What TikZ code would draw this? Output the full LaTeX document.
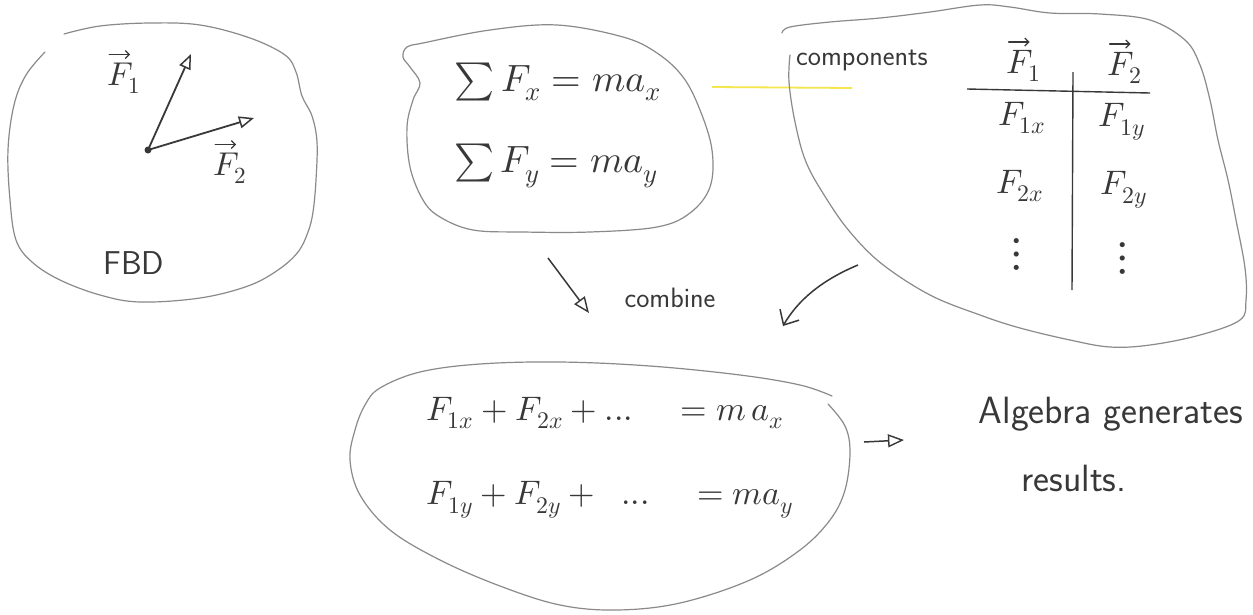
\documentclass[tikz,border=0pt]{standalone}
\usepackage{fontspec}
\usepackage{unicode-math}
\setmathfont{Latin Modern Math}
\usetikzlibrary{arrows.meta}
\definecolor{pencilc}{HTML}{8A8A8A}
\definecolor{inkc}{HTML}{383838}
\definecolor{hilitec}{HTML}{F4E64C}
\newcommand{\fsz}[1]{\fontsize{#1}{#1}\selectfont}
\tikzset{
  blob/.style={draw=pencilc, line width=1.2pt, line cap=round, line join=round},
  lbl/.style={text=inkc, inner sep=1pt},
  vecarrow/.style={draw=inkc, line width=1.8pt, -{Triangle[open, length=15pt, width=12pt, line width=1.5pt]}},
  vecmark/.style={draw=inkc, line width=1.3pt, line cap=round, -{Straight Barb[length=4pt, width=8pt, line width=1.3pt]}},
  inkline/.style={draw=inkc, line width=1.4pt},
  hdarrow/.style={draw=inkc, line width=1.5pt, -{Triangle[open, length=16pt, width=13pt, line width=1.4pt]}},
  barbarrow/.style={draw=inkc, line width=1.5pt, -{Straight Barb[length=12pt, width=22pt, line width=1.5pt]}},
}
\begin{document}
\begin{tikzpicture}[x=1pt, y=-1pt]
\useasboundingbox (0,0) rectangle (1253,614);
\fill[white] (0,0) rectangle (1253,614);

% ---------- FBD blob ----------
\draw[blob] plot[smooth, tension=0.6] coordinates {
  (64,34) (100,26) (150,23) (200,25) (250,38) (285,55) (296,72) (302,96)
  (312,116) (317,142) (316,180) (313,212) (308,232) (298,252) (278,270)
  (248,286) (200,298) (140,302) (100,295) (60,280) (32,262) (16,240)
  (10,200) (8,150) (14,105) (26,75) (45,52)};
\coordinate (o) at (148,150);
\coordinate (f1tip) at (191,54);
\coordinate (f2tip) at (254,118);
\draw[vecarrow] (o) -- (f1tip);
\draw[vecarrow] (o) -- (f2tip);
\fill[inkc] (o) circle (3.5pt);
\node[lbl, font=\fsz{33}] (f1lab) at (124,78) {$F_1$};
\node[lbl, font=\fsz{33}] (f2lab) at (230,168) {$F_2$};
\draw[vecmark] ([xshift=3pt, yshift=7pt]f1lab.north west) -- ([xshift=24pt, yshift=7pt]f1lab.north west);
\draw[vecmark] ([xshift=3pt, yshift=7pt]f2lab.north west) -- ([xshift=24pt, yshift=7pt]f2lab.north west);
\node[lbl, font=\sffamily\fsz{33}] (fbd) at (134,263) {FBD};

% ---------- Sum blob ----------
\draw[blob] plot[smooth cycle, tension=0.6] coordinates {
  (407,47) (423,43) (490,30) (557,25) (623,37) (657,53) (683,77) (700,110)
  (712,150) (710,187) (690,213) (657,227) (590,232) (523,232) (473,230)
  (440,217) (423,200) (410,167) (407,127) (413,100) (420,83) (410,67)
  (403,57)};
\node[lbl, font=\fsz{38}] (sumx) at (558,82) {$\sum F_x = m a_x$};
\node[lbl, font=\fsz{38}] (sumy) at (556,166) {$\sum F_y = m a_y$};

% yellow highlight stroke
\coordinate (y1) at (712,87);
\coordinate (y2) at (852,88);
\draw[draw=hilitec, line width=1.8pt] (y1) -- (y2);

% ---------- Components blob ----------
\draw[blob] plot[smooth, tension=0.6] coordinates {
  (782,33) (790,27) (830,22) (880,18) (930,12) (980,5) (1010,7) (1050,13)
  (1100,14) (1150,20) (1185,40) (1200,65) (1210,100) (1218,140) (1228,180)
  (1236,220) (1245,268) (1246,300) (1240,320) (1200,335) (1150,345)
  (1110,347) (1070,340) (1020,328) (980,315) (930,295) (882,264) (850,232)
  (826,198) (806,162) (795,122) (789,82) (790,55)};
\node[lbl, font=\sffamily\fsz{28}] (comp) at (862,60) {components};
\node[lbl, font=\fsz{34}] (h1) at (1024,66) {$F_1$};
\node[lbl, font=\fsz{34}] (h2) at (1125,68) {$F_2$};
\draw[vecmark] ([xshift=3pt, yshift=7pt]h1.north west) -- ([xshift=24pt, yshift=7pt]h1.north west);
\draw[vecmark] ([xshift=3pt, yshift=7pt]h2.north west) -- ([xshift=24pt, yshift=7pt]h2.north west);
\coordinate (hl1) at (967,89);
\coordinate (hl2) at (1150,93);
\coordinate (vl1) at (1073,72);
\coordinate (vl2) at (1072,290);
\draw[inkline] (hl1) -- (hl2);
\draw[inkline] (vl1) -- (vl2);
\node[lbl, font=\fsz{34}] (f1x) at (1022,118) {$F_{1x}$};
\node[lbl, font=\fsz{34}] (f1y) at (1122,122) {$F_{1y}$};
\node[lbl, font=\fsz{34}] (f2x) at (1020,186) {$F_{2x}$};
\node[lbl, font=\fsz{34}] (f2y) at (1124,190) {$F_{2y}$};
\node[lbl, font=\fsz{48}] (d1) at (1017,254) {$\vdots$};
\node[lbl, font=\fsz{48}] (d2) at (1123,258) {$\vdots$};

% ---------- combine arrows ----------
\coordinate (ca1) at (548,258);
\coordinate (ca2) at (589,313);
\draw[hdarrow] (ca1) -- (ca2);
\node[lbl, font=\sffamily\fsz{28}] (comb) at (670,298) {combine};
\coordinate (cb1) at (858,265);
\coordinate (cb2) at (783,326);
\draw[barbarrow] (cb1) .. controls (822,280) and (798,300) .. (cb2);

% ---------- result blob ----------
\draw[blob] plot[smooth, tension=0.6] coordinates {
  (832,396) (800,385) (740,375) (650,366) (560,362) (480,364) (420,372)
  (380,388) (365,405) (355,430) (350,460) (360,495) (390,530) (440,560)
  (500,586) (560,605) (617,610) (680,603) (750,580) (800,550) (830,520)
  (845,490) (850,452) (845,426) (828,404)};
\node[lbl, font=\fsz{34}] (eqx) at (605,413) {$F_{1x}+F_{2x}+...\;\;\;\; = m\,a_x$};
\node[lbl, font=\fsz{34}] (eqy) at (610,500) {$F_{1y}+F_{2y}+\;\;...\;\;\;\; = m a_y$};

% ---------- result arrow and text ----------
\coordinate (ra1) at (864,442);
\coordinate (ra2) at (904,440);
\draw[hdarrow] (ra1) -- (ra2);
\node[lbl, font=\sffamily\fsz{38}] (alg) at (1111,414) {Algebra generates};
\node[lbl, font=\sffamily\fsz{38}] (res) at (1074,478) {results.};
\end{tikzpicture}
\end{document}
